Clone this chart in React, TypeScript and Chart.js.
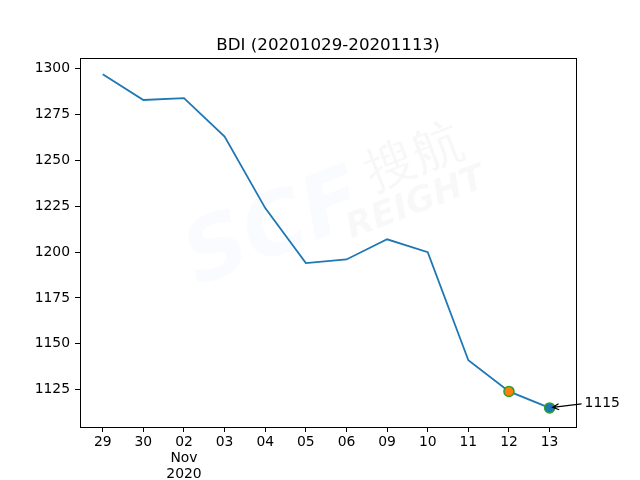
import React, { useEffect, useRef } from "react";
import { Chart, registerables } from "chart.js";

Chart.register(...registerables);

const dateLabels: string[][] = [
  ["29"], ["30"], ["02", "Nov", "2020"], ["03"], ["04"], ["05"],
  ["06"], ["09"], ["10"], ["11"], ["12"], ["13"],
];
const bdiValues: number[] = [1297, 1283, 1284, 1263, 1224, 1194, 1196, 1207, 1200, 1141, 1124, 1115];
const yTicks: number[] = [1125, 1150, 1175, 1200, 1225, 1250, 1275, 1300];
const yAxisMin = 1104.6;
const yAxisMax = 1305.9;
const xAxisMin = -0.56;
const xAxisMax = 11.65;
const titleText = "BDI (20201029-20201113)";
const annotationText = "1115";
const orangeIndex = 10;
const blueIndex = 11;

const FONT = "'DejaVu Sans', sans-serif";

export default function App() {
  const ref = useRef<HTMLCanvasElement | null>(null);

  useEffect(() => {
    if (!ref.current) return;

    const framePlugin = {
      id: "frameAndText",
      beforeDatasetsDraw(chart: any) {
        const { ctx } = chart;
        ctx.save();
        ctx.textAlign = "center";
        ctx.textBaseline = "middle";
        // faint watermark
        ctx.save();
        ctx.translate(275, 232);
        ctx.rotate(-0.37);
        ctx.fillStyle = "rgba(60,140,210,0.03)";
        ctx.font = `italic bold 86px ${FONT}`;
        ctx.fillText("SCF", 0, 0);
        ctx.restore();
        ctx.save();
        ctx.translate(415, 160);
        ctx.rotate(-0.37);
        ctx.fillStyle = "rgba(0,0,0,0.03)";
        ctx.font = `50px ${FONT}`;
        ctx.fillText("搜航", 0, 0);
        ctx.restore();
        ctx.save();
        ctx.translate(416, 204);
        ctx.rotate(-0.37);
        ctx.fillStyle = "rgba(0,0,0,0.028)";
        ctx.font = `italic bold 35px ${FONT}`;
        ctx.fillText("REIGHT", 0, 0);
        ctx.restore();
        ctx.restore();
      },
      afterDatasetsDraw(chart: any) {
        const { ctx, chartArea, scales } = chart;
        ctx.save();
        ctx.strokeStyle = "#000";
        ctx.lineWidth = 1;
        ctx.strokeRect(
          Math.round(chartArea.left) + 0.5,
          Math.round(chartArea.top) + 0.5,
          Math.round(chartArea.right - chartArea.left),
          Math.round(chartArea.bottom - chartArea.top)
        );
        // title
        ctx.fillStyle = "#000";
        ctx.font = `16.7px ${FONT}`;
        ctx.textAlign = "center";
        ctx.textBaseline = "alphabetic";
        ctx.fillText(titleText, (chartArea.left + chartArea.right) / 2, chartArea.top - 8);
        // annotation
        const px = scales.x.getPixelForValue(blueIndex);
        const py = scales.y.getPixelForValue(bdiValues[blueIndex]);
        ctx.font = `13.9px ${FONT}`;
        ctx.textAlign = "left";
        ctx.textBaseline = "middle";
        ctx.fillText(annotationText, px + 35, py - 5);
        const sx = px + 32, sy = py - 4;
        const ex = px + 3, ey = py - 0.5;
        ctx.beginPath();
        ctx.moveTo(sx, sy);
        ctx.lineTo(ex, ey);
        const ang = Math.atan2(ey - sy, ex - sx);
        const hl = 7;
        ctx.moveTo(ex - hl * Math.cos(ang - 0.45), ey - hl * Math.sin(ang - 0.45));
        ctx.lineTo(ex, ey);
        ctx.lineTo(ex - hl * Math.cos(ang + 0.45), ey - hl * Math.sin(ang + 0.45));
        ctx.lineWidth = 1.2;
        ctx.stroke();
        ctx.restore();
      },
    };

    const chart = new Chart(ref.current, {
      type: "line",
      data: {
        datasets: [
          {
            data: bdiValues.map((v, i) => ({ x: i, y: v })),
            borderColor: "#1f77b4",
            borderWidth: 1.8,
            pointRadius: 0,
            tension: 0,
            order: 2,
          },
          {
            data: [{ x: orangeIndex, y: bdiValues[orangeIndex] }],
            showLine: false,
            pointRadius: 5,
            pointBackgroundColor: "#ff7f0e",
            pointBorderColor: "#2ca02c",
            pointBorderWidth: 1.5,
            order: 1,
          },
          {
            data: [{ x: blueIndex, y: bdiValues[blueIndex] }],
            showLine: false,
            pointRadius: 5,
            pointBackgroundColor: "#1f77b4",
            pointBorderColor: "#2ca02c",
            pointBorderWidth: 1.5,
            order: 0,
          },
        ],
      },
      options: {
        animation: false,
        responsive: false,
        maintainAspectRatio: false,
        devicePixelRatio: 1,
        layout: { padding: { top: 58, right: 64, left: 0, bottom: 0 } },
        plugins: {
          legend: { display: false },
          tooltip: { enabled: false },
          title: { display: false },
        },
        scales: {
          x: {
            type: "linear",
            min: xAxisMin,
            max: xAxisMax,
            afterFit: (s: any) => { s.height = 53; },
            afterBuildTicks: (s: any) => {
              s.ticks = dateLabels.map((_, i) => ({ value: i }));
            },
            ticks: {
              autoSkip: false,
              maxRotation: 0,
              minRotation: 0,
              color: "#000",
              padding: 2,
              font: { family: FONT, size: 13.9, lineHeight: 1.16 },
              callback: (v: any) => dateLabels[Math.round(v)] ?? "",
            },
            grid: { drawOnChartArea: false, drawTicks: true, tickLength: 5, color: "#000", lineWidth: 1 },
            border: { display: false },
          },
          y: {
            type: "linear",
            min: yAxisMin,
            max: yAxisMax,
            afterFit: (s: any) => { s.width = 80; },
            afterBuildTicks: (s: any) => {
              s.ticks = yTicks.map((v) => ({ value: v }));
            },
            ticks: {
              color: "#000",
              padding: 5,
              font: { family: FONT, size: 13.9 },
              callback: (v: any) => String(v),
            },
            grid: { drawOnChartArea: false, drawTicks: true, tickLength: 5, color: "#000", lineWidth: 1 },
            border: { display: false },
          },
        },
      },
      plugins: [framePlugin],
    } as any);

    return () => chart.destroy();
  }, []);

  return (
    <div style={{ position: "absolute", left: 0, top: 0, width: 640, height: 480, background: "#fff" }}>
      <canvas ref={ref} width={640} height={480} style={{ width: 640, height: 480, display: "block" }} />
    </div>
  );
}
